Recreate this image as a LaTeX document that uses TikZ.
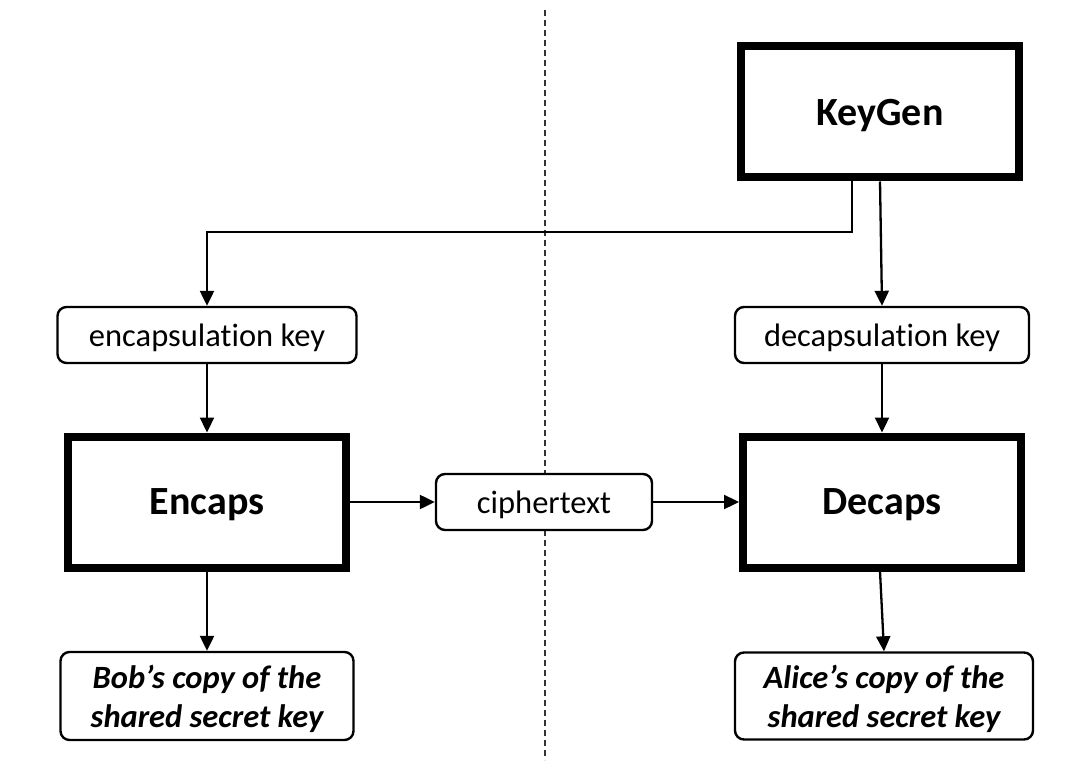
\documentclass[tikz,border=0pt]{standalone}
\usepackage{fontspec}
\setmainfont{Carlito}[RawFeature={-liga;-clig;-dlig;-calt}]
\usetikzlibrary{arrows.meta}
\tikzset{
  thickbox/.style={draw, line width=8pt, fill=white, minimum width=278pt, minimum height=131pt, inner sep=0pt, text depth=0pt, font=\fontsize{40}{48}\selectfont\bfseries},
  roundbox/.style={draw, line width=2.4pt, fill=white, rounded corners=9pt, inner sep=0pt, text depth=0pt, align=center, font=\fontsize{32.5}{39}\selectfont},
  keybox/.style={roundbox, font=\fontsize{32.5}{39}\selectfont\bfseries\itshape},
  arr/.style={line width=2.3pt, -{Triangle[length=15pt,width=14pt]}},
  divider/.style={line width=1.2pt, dash pattern=on 6pt off 4pt, draw=black!80}
}
\begin{document}
\begin{tikzpicture}[x=1pt,y=-1pt]
\useasboundingbox (0,0) rectangle (1075,775);
\coordinate (dtop) at (545,10);
\coordinate (dbot) at (545,760);
\draw[divider] (dtop) -- (dbot);

\node[thickbox] (keygen) at (880,112) {KeyGen};
\node[roundbox, minimum width=299pt, minimum height=56pt] (enckey) at (207,335) {encapsulation key};
\node[roundbox, minimum width=294pt, minimum height=56pt] (deckey) at (882,335) {decapsulation key};
\node[thickbox] (encaps) at (207,502) {Encaps};
\node[thickbox] (decaps) at (882,502) {Decaps};
\node[roundbox, minimum width=216pt, minimum height=56pt] (cipher) at (544,502) {ciphertext};
\node[keybox, minimum width=293pt, minimum height=88pt] (bob) at (207,696) {Bob’s copy of the\\shared secret key};
\node[keybox, minimum width=298pt, minimum height=87pt] (alice) at (884,696) {Alice’s copy of the\\shared secret key};

\coordinate (bend) at (207,232);
\draw[arr] ([xshift=-28pt]keygen.south) |- (bend) -- (enckey.north);
\draw[arr] (keygen.south) -- (deckey.north);
\draw[arr] (enckey.south) -- (encaps.north);
\draw[arr] (deckey.south) -- (decaps.north);
\draw[arr] (encaps.east) -- (cipher.west);
\draw[arr] (cipher.east) -- (decaps.west);
\draw[arr] (encaps.south) -- (bob.north);
\draw[arr] ([xshift=-2pt]decaps.south) -- (alice.north);
\end{tikzpicture}
\end{document}
